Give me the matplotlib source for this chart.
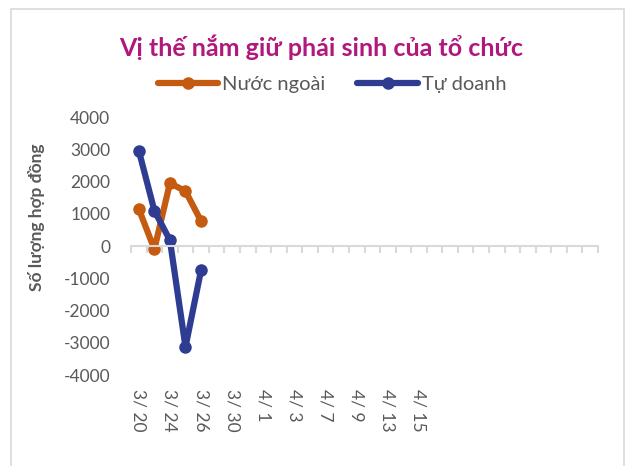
import matplotlib
matplotlib.use("Agg")
import matplotlib.pyplot as plt
import numpy as np
from matplotlib.patches import Rectangle

plt.rcParams['font.family'] = ['Lato', 'Noto Sans', 'DejaVu Sans']

# trading days shown on the category axis (later slots have no label)
dates = ["3/ 20", "3/ 23", "3/ 24", "3/ 25", "3/ 26", "3/ 27", "3/ 30", "3/ 31",
         "4/ 1", "4/ 2", "4/ 3", "4/ 6", "4/ 7", "4/ 8", "4/ 9", "4/ 10",
         "4/ 13", "4/ 14", "4/ 15"]
n_slots = 30
nuoc_ngoai = [1150, -100, 1950, 1700, 775]
tu_doanh = [2960, 1100, 180, -3130, -750]
yticks = [-4000, -3000, -2000, -1000, 0, 1000, 2000, 3000, 4000]

title = "Vị thế nắm giữ phái sinh của tổ chức"
ylabel = "Số lượng hợp đồng"
labels = ["Nước ngoài", "Tự doanh"]
colors = ["#C55A11", "#2E3D92"]
gray = "#595959"
axis_gray = "#D9D9D9"

W, H = 629, 466
fig = plt.figure(figsize=(W / 100, H / 100), dpi=100)

# outer chart border (bottom edge cut off in the reference)
fig.add_artist(Rectangle((11 / W, -0.1), (624 - 11) / W, 1.1 - 9 / H,
                         transform=fig.transFigure, fill=False,
                         edgecolor=axis_gray, linewidth=1.2))

ax = fig.add_axes([131 / W, 1 - 375 / H, (598 - 131) / W, (375 - 117) / H])

for series, name, c in zip([nuoc_ngoai, tu_doanh], labels, colors):
    x = np.arange(len(series))
    ax.plot(x, series, color=c, linewidth=4.5, marker="o", markersize=8,
            solid_capstyle="round", label=name)

ax.set_xlim(-0.5, n_slots - 0.5)
ax.set_ylim(-4000, 4000)
ax.set_yticks(yticks)
ax.set_yticklabels([str(v) for v in yticks])
ax.tick_params(axis="y", length=0, pad=15, labelsize=12.5, labelcolor=gray)

for s in ["top", "right", "left"]:
    ax.spines[s].set_visible(False)
ax.spines["bottom"].set_position(("data", 0))
ax.spines["bottom"].set_color(axis_gray)
ax.spines["bottom"].set_linewidth(1.5)
ax.set_xticks([])
ax.set_xticks(np.arange(-0.5, n_slots, 1), minor=True)
ax.tick_params(axis="x", which="minor", direction="out", length=5,
               width=1.5, color=axis_gray)

# category labels sit at the bottom of the plot area
sec = ax.secondary_xaxis("bottom")
sec.spines["bottom"].set_visible(False)
idx = list(range(0, len(dates), 2))
sec.set_xticks(idx)
sec.set_xticklabels([dates[i] for i in idx], rotation=270)
sec.tick_params(axis="x", length=0, pad=10, labelsize=12.5, labelcolor=gray)

ax.set_ylabel(ylabel, fontsize=12.5, fontweight="bold", color=gray)
ax.yaxis.set_label_coords(-0.185, 0.61)

fig.text(321 / W, 1 - 47 / H, title, ha="center", va="center",
         fontsize=18, fontweight="bold", color="#B0187D")

fig.legend(loc="center", bbox_to_anchor=(332 / W, 1 - 84 / H), ncol=2,
           frameon=False, fontsize=14.5, labelcolor=gray, handlelength=3,
           handletextpad=0.2, columnspacing=1.6, borderaxespad=0)

fig.savefig("out.png", dpi=100)
